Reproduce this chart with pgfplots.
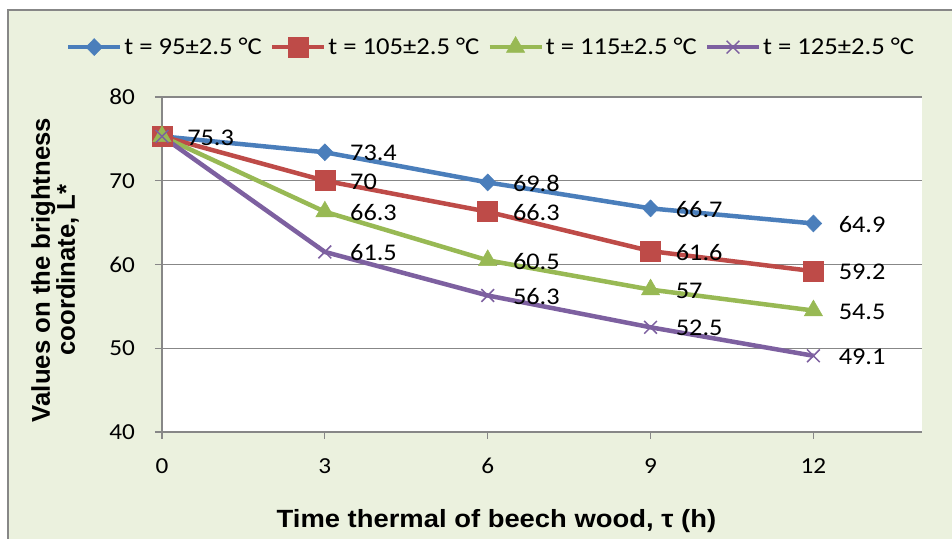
\documentclass[border=0pt]{standalone}
\usepackage{fontspec}
\setmainfont{Carlito}[FakeStretch=1.1]
\newfontfamily\labfont{Liberation Sans}[FakeStretch=1.1]
\newfontfamily\ylabfont{Liberation Sans}
\usepackage{pgfplots}
\pgfplotsset{compat=1.18}
\definecolor{chartbg}{HTML}{EBF1DE}
\definecolor{sblue}{HTML}{4A7EBB}
\definecolor{sred}{HTML}{BE4B48}
\definecolor{sgreen}{HTML}{98B954}
\definecolor{spurple}{HTML}{7D60A0}
\definecolor{gridgray}{HTML}{878787}
\begin{document}
\begin{tikzpicture}
\useasboundingbox (0,0) rectangle (952bp,539bp);
\fill[white] (0,0) rectangle (952bp,539bp);
\fill[chartbg] (8bp,-5bp) rectangle (960bp,529bp);
\draw[gridgray,line width=1.2bp] (8bp,-5bp) -- (8bp,529bp) -- (960bp,529bp);
\begin{axis}[
  at={(162bp,107bp)}, anchor=south west,
  scale only axis, width=760bp, height=335bp,
  xmin=0, xmax=14, ymin=40, ymax=80,
  xtick={0,3,6,9,12}, ytick={40,50,60,70,80},
  axis x line=bottom, axis y line=left,
  axis line style={gridgray, line width=1.5bp, -},
  every tick/.style={gridgray, line width=1.2bp},
  tick align=outside, major tick length=7bp,
  ymajorgrids, grid style={gridgray, line width=1.2bp},
  axis background/.style={fill=white},
  /pgf/number format/assume math mode=true,
  ticklabel style={font=\fontsize{23}{26}\selectfont, inner sep=0pt, text=black},
  xticklabel style={anchor=base, yshift=-34bp},
  yticklabel style={anchor=east, xshift=-20bp},
  xlabel={Time thermal of beech wood, τ (h)},
  ylabel={Values on the brightness\\coordinate, L*},
  xlabel style={at={(rel axis cs:0.44,-0.2657)}, anchor=center, font=\labfont\bfseries\fontsize{25}{27}\selectfont},
  ylabel style={at={(rel axis cs:-0.1408,0.4836)}, anchor=center, align=center, font=\ylabfont\bfseries\fontsize{25.8}{25}\selectfont},
  legend style={at={(rel axis cs:0.433,1.149)}, anchor=center, draw=none, fill=none,
    legend columns=4, font=\fontsize{24.3}{28}\selectfont,
    /tikz/every even column/.append style={column sep=6bp}},
  legend image code/.code={\draw[mark repeat=2,mark phase=2] plot coordinates {(0bp,0bp) (26bp,0bp) (52bp,0bp)};},
  every axis plot/.append style={line width=4.5bp},
  point meta=explicit symbolic,
  nodes near coords,
  every node near coord/.append style={anchor=west, xshift=22bp, yshift=-1bp, text=black, font=\fontsize{24}{28}\selectfont, line width=0pt},
  clip=false,
]
\addplot[sblue, mark=diamond*, mark size=8.5bp, mark options={solid, xscale=1.3, fill=sblue, draw=sblue, line width=0.5bp}]
  coordinates {(0,75.3) [75.3] (3,73.4) [73.4] (6,69.8) [69.8] (9,66.7) [66.7] (12,64.9) [64.9]};
\addlegendentry{t = 95±2.5 °C}
\addplot[sred, mark=square*, mark size=10bp, mark options={solid, fill=sred, draw=sred, line width=0.5bp}]
  coordinates {(0,75.3) [] (3,70) [70] (6,66.3) [66.3] (9,61.6) [61.6] (12,59.2) [59.2]};
\addlegendentry{t = 105±2.5 °C}
\addplot[sgreen, mark=triangle*, mark size=10.5bp, mark options={solid, fill=sgreen, draw=sgreen, line width=0.5bp}]
  coordinates {(0,75.3) [] (3,66.3) [66.3] (6,60.5) [60.5] (9,57) [57] (12,54.5) [54.5]};
\addlegendentry{t = 115±2.5 °C}
\addplot[spurple, mark=x, mark size=9bp, mark options={solid, draw=spurple, line width=1.5bp}]
  coordinates {(0,75.3) [] (3,61.5) [61.5] (6,56.3) [56.3] (9,52.5) [52.5] (12,49.1) [49.1]};
\addlegendentry{t = 125±2.5 °C}
\end{axis}
\end{tikzpicture}
\end{document}
